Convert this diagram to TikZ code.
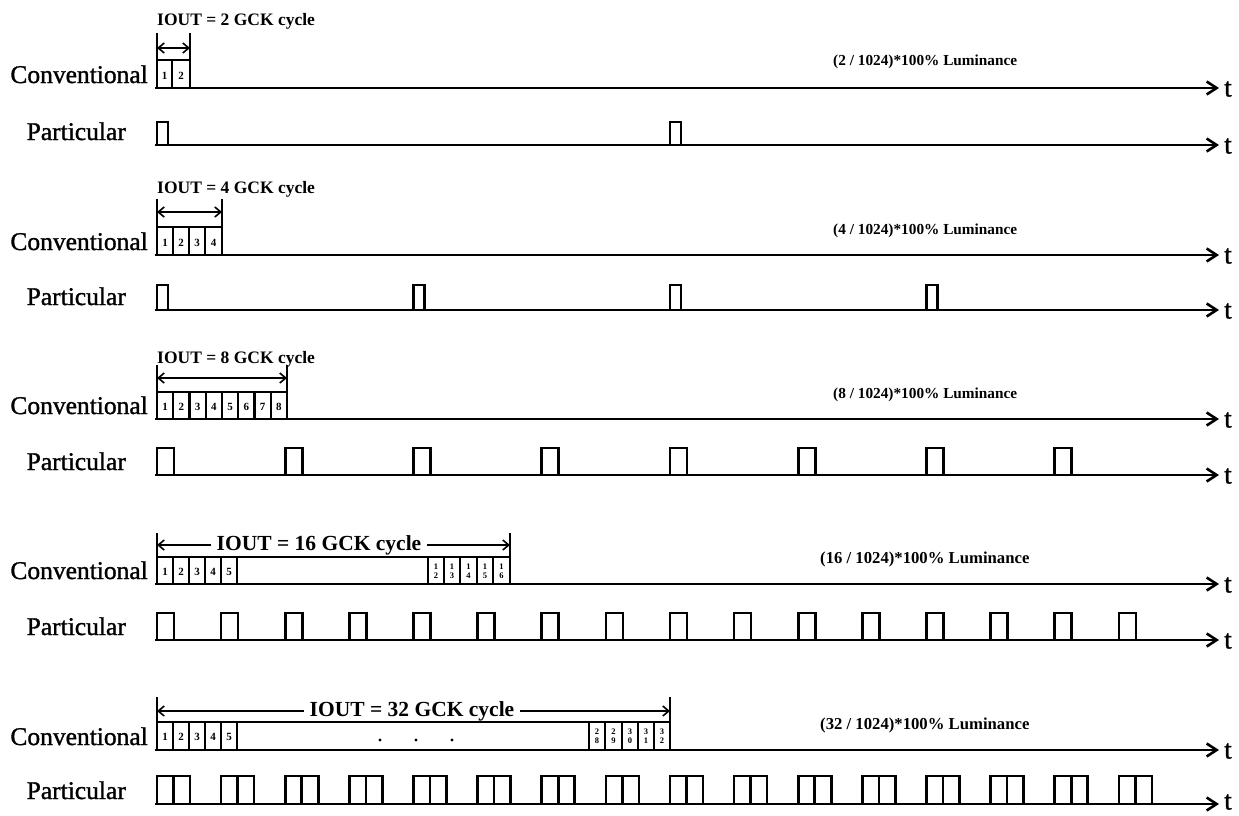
\documentclass[tikz,border=0pt]{standalone}
\usepackage{fontspec}
\setmainfont{Liberation Serif}
\newfontfamily\heavyfont[FakeBold=1.2]{Liberation Serif}
\usetikzlibrary{arrows.meta}
\begin{document}
\begin{tikzpicture}[x=1pt,y=-1pt,
  axis/.style={line width=2.6pt,-{Straight Barb[length=10pt,width=13pt]}},
  pulse/.style={line width=2.6pt,line join=miter},
  cell/.style={line width=2.2pt},
  bar/.style={line width=2.2pt},
  dim/.style={line width=1.6pt,{Straight Barb[length=6pt,width=10pt]}-{Straight Barb[length=6pt,width=10pt]}},
  dimr/.style={line width=1.6pt,-{Straight Barb[length=6pt,width=10pt]}},
  lab/.style={font=\heavyfont\fontsize{25.5}{27}\selectfont,anchor=base east,inner sep=0pt},
  tlab/.style={font=\heavyfont\fontsize{27}{28}\selectfont,anchor=west,inner sep=0pt},
  iout/.style={font=\bfseries\fontsize{17.5}{19}\selectfont,anchor=base west,inner sep=0pt},
  ioutb/.style={font=\bfseries\fontsize{21.5}{23}\selectfont,inner xsep=6pt,inner ysep=0pt},
  lum/.style={font=\bfseries\fontsize{15.3}{17}\selectfont,anchor=base west,inner sep=0pt},
  lumb/.style={font=\bfseries\fontsize{16.7}{18}\selectfont,anchor=base west,inner sep=0pt},
  dig/.style={font=\bfseries\fontsize{11}{11}\selectfont,inner sep=0pt},
  ddig/.style={font=\bfseries\fontsize{8.5}{9}\selectfont,inner sep=0pt,align=center},
]
\useasboundingbox[fill=white] (0,0) rectangle (1239,816);

% ---------- axes with t labels ----------
\foreach \n/\y/\ty in {c1/88/89,p1/145/146,c2/255/256,p2/310/311,c3/419/420,p3/475/476,c4/584/585,p4/640/641,c5/750/751,p5/804/802}{
  \coordinate (\n s) at (155,\y);
  \node[tlab] (\n t) at (1224,\ty) {t};
  \draw[axis] (\n s) -- (1219,\y);
}

% ---------- row labels ----------
\foreach \n/\y in {1/88,2/255,3/419,4/584,5/750}{
  \node[lab] (conv\n) at (148,\y-5) {Conventional};
}
\foreach \n/\y in {1/145,2/310,3/475,4/640,5/804}{
  \node[lab] (part\n) at (126,\y-5) {Particular};
}

% ---------- luminance labels ----------
\node[lum] (lum1) at (833,66) {(2 / 1024)*100\% Luminance};
\node[lum] (lum2) at (833,234) {(4 / 1024)*100\% Luminance};
\node[lum] (lum3) at (833,398) {(8 / 1024)*100\% Luminance};
\node[lumb] (lum4) at (820,563) {(16 / 1024)*100\% Luminance};
\node[lumb] (lum5) at (820,729) {(32 / 1024)*100\% Luminance};

% ---------- row 1 ----------
\node[iout] (io1) at (157,26) {IOUT = 2 GCK cycle};
\draw[bar] (157,33) -- (157,60);
\draw[bar] (190,33) -- (190,60);
\draw[dim] (157,48) -- (190,48);
\draw[cell] (157,60) -- (190,60);
\foreach \x in {157,172,190} \draw[cell] (\x,60) -- (\x,88);
\node[dig] (b11) at (164.5,76) {1};
\node[dig] (b12) at (181,76) {2};
\foreach \i in {0,1} \draw[pulse] ({157+513*\i},145) -- ++(0,-23) -- ++(11,0) -- ++(0,23);

% ---------- row 2 ----------
\node[iout] (io2) at (157,193) {IOUT = 4 GCK cycle};
\draw[bar] (157,199) -- (157,227);
\draw[bar] (222,199) -- (222,227);
\draw[dim] (157,212) -- (222,212);
\draw[cell] (157,227) -- (222,227);
\foreach \x in {157,173,189,205,222} \draw[cell] (\x,227) -- (\x,255);
\foreach \x/\d in {165/1,181/2,197/3,213.5/4} \node[dig] (b2\d) at (\x,243) {\d};
\foreach \i in {0,...,3} \draw[pulse] ({157+256.5*\i},310) -- ++(0,-25) -- ++(11,0) -- ++(0,25);

% ---------- row 3 ----------
\node[iout] (io3) at (157,363) {IOUT = 8 GCK cycle};
\draw[bar] (157,365) -- (157,392);
\draw[bar] (287,365) -- (287,392);
\draw[dim] (157,378) -- (287,378);
\draw[cell] (157,392) -- (287,392);
\foreach \i in {0,...,8} \draw[cell] ({157+16.25*\i},392) -- ({157+16.25*\i},419);
\foreach \i in {1,...,8} \node[dig] (b3\i) at ({157+16.25*\i-8.1},407) {\i};
\foreach \i in {0,...,7} \draw[pulse] ({157+128.25*\i},475) -- ++(0,-27) -- ++(17,0) -- ++(0,27);

% ---------- row 4 ----------
\node[ioutb] (io4) at (319,545) {IOUT = 16 GCK cycle};
\draw[bar] (157,533) -- (157,557);
\draw[bar] (510,533) -- (510,557);
\draw[dimr] (io4.west) -- (157,545);
\draw[dimr] (io4.east) -- (510,545);
\draw[cell] (157,557) -- (510,557);
\foreach \x in {157,173,189,205,221,237,428,444,460,477,493,510} \draw[cell] (\x,557) -- (\x,584);
\foreach \x/\d in {165/1,181/2,197/3,213/4,229/5} \node[dig] (b4\d) at (\x,572) {\d};
\foreach \x/\a/\b in {436/1/2,452/1/3,468.5/1/4,485/1/5,501.5/1/6} \node[ddig] (b4\a\b) at (\x,571) {\a\\\b};
\foreach \i in {0,...,15} \draw[pulse] ({157+64.125*\i},640) -- ++(0,-27) -- ++(17,0) -- ++(0,27);

% ---------- row 5 ----------
\node[ioutb] (io5) at (412,711) {IOUT = 32 GCK cycle};
\draw[bar] (157,697) -- (157,722);
\draw[bar] (670,697) -- (670,722);
\draw[dimr] (io5.west) -- (157,711);
\draw[dimr] (io5.east) -- (670,711);
\draw[cell] (157,722) -- (670,722);
\foreach \x in {157,173,189,205,221,237,589,605,622,638,654,670} \draw[cell] (\x,722) -- (\x,750);
\foreach \x/\d in {165/1,181/2,197/3,213/4,229/5} \node[dig] (b5\d) at (\x,737) {\d};
\foreach \x/\a/\b in {597/2/8,613.5/2/9,630/3/0,646/3/1,662/3/2} \node[ddig] (b5\a\b) at (\x,736) {\a\\\b};
\foreach \x in {380,416,452} \fill (\x,740) circle (1.6pt);
\foreach \i in {0,...,15}{
  \draw[pulse] ({157+64.125*\i},804) -- ++(0,-28) -- ++(33,0) -- ++(0,28);
  \draw[pulse] ({157+64.125*\i+16.5},776) -- ++(0,28);
}
\end{tikzpicture}
\end{document}
